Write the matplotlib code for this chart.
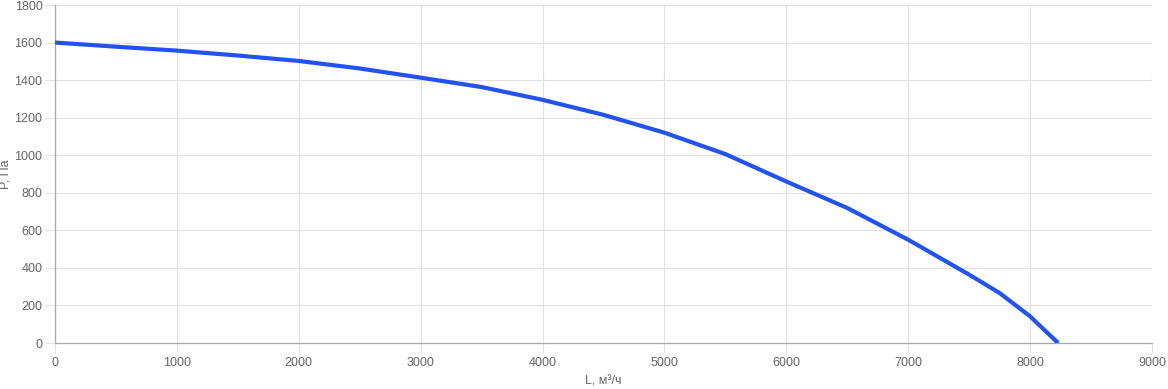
import matplotlib
matplotlib.use("Agg")
import matplotlib.pyplot as plt

# fan curve: flow L (m3/h) vs pressure P (Pa)
flow = [0, 500, 1000, 1500, 2000, 2500, 3000, 3500, 4000, 4500, 5000, 5500,
        6000, 6500, 7000, 7500, 7750, 8000, 8080, 8230]
pressure = [1600, 1578, 1557, 1531, 1502, 1462, 1413, 1363, 1295, 1215, 1120, 1006,
            860, 719, 550, 364, 266, 142, 92, 0]

x_ticks = list(range(0, 9001, 1000))
y_ticks = list(range(0, 1801, 200))

plt.rcParams['font.family'] = ['Liberation Sans', 'DejaVu Sans']

fig = plt.figure(figsize=(11.68, 3.89), dpi=100)
ax = fig.add_axes([55/1168, 1 - 343/389, 1097/1168, 338/389])

ax.plot(flow, pressure, color='#2352f2', lw=3.0, solid_capstyle='butt',
        solid_joinstyle='round', zorder=3)

ax.set_xlim(0, 9000)
ax.set_ylim(0, 1800)
ax.set_xticks(x_ticks)
ax.set_yticks(y_ticks)
ax.grid(True, color='#e2e2e2', lw=0.8)
ax.set_axisbelow(True)

for s in ['top', 'right']:
    ax.spines[s].set_visible(False)
for s in ['left', 'bottom']:
    ax.spines[s].set_color('#a8a8a8')
    ax.spines[s].set_linewidth(0.9)

ax.tick_params(axis='both', colors='#e2e2e2', labelcolor='#666666', labelsize=9, length=7, width=0.8)
ax.tick_params(axis='x', pad=3)
ax.tick_params(axis='y', pad=2)

# axis titles placed by hand so they stay inside the canvas
fig.text(603/1168, 1 - 381/389, 'L, м³/ч', color='#666666', fontsize=9,
         ha='center', va='center')
fig.text(6/1168, 1 - 174/389, 'P, Па', color='#666666', fontsize=9,
         ha='center', va='center', rotation=90)

fig.savefig('out.png', dpi=100)
